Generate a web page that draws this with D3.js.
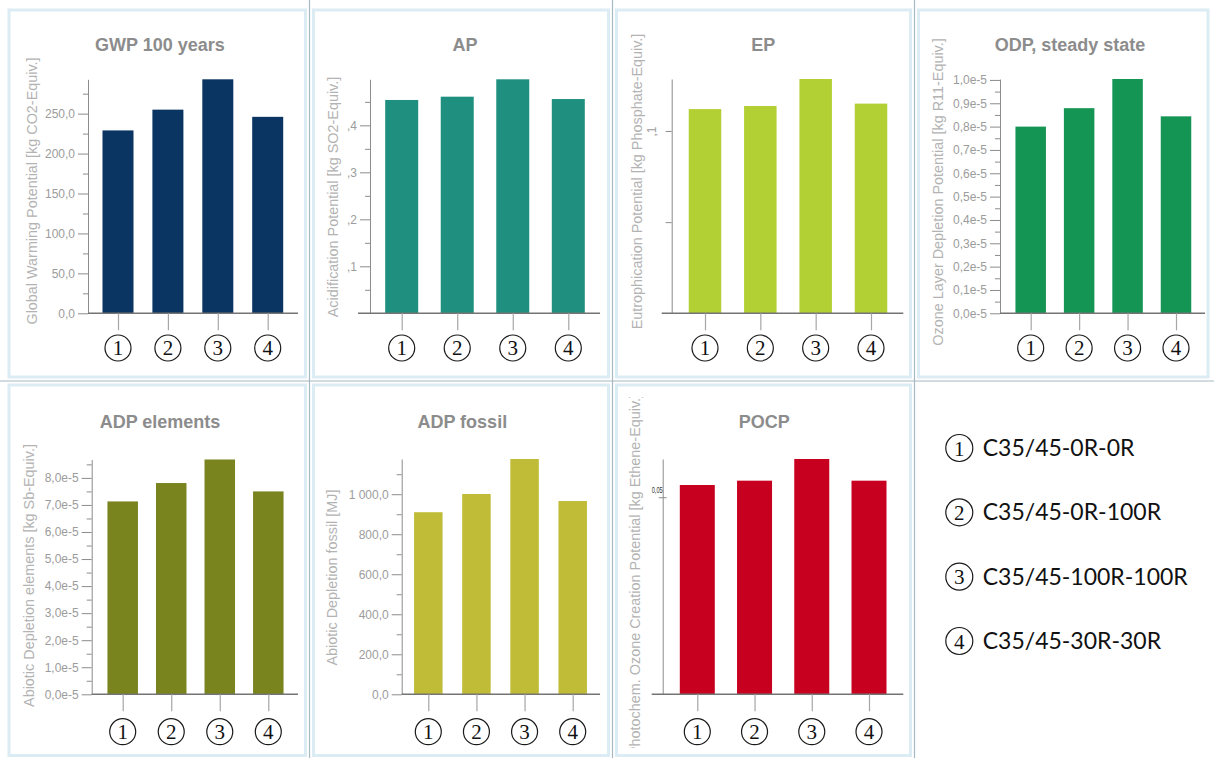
<!DOCTYPE html>
<html>
<head>
<meta charset="utf-8">
<script src="https://cdn.jsdelivr.net/npm/d3@7"></script>
<style>
  body { margin: 0; background: #ffffff; }
  svg { display: block; }
  .ytick text { font-family: "Liberation Sans", Arial, sans-serif; font-size: 12px; fill: #9c9c9c; }
  .ytick .domain, .ytick line, .yminor line { stroke: #8c8c8c; stroke-width: 1; }
  .yminor .domain { display: none; }
  .xcat .domain { display: none; }
  .xcat line { stroke: #a6a6a6; stroke-width: 1.2; }
</style>
</head>
<body>
<svg id="chart" width="1214" height="758"></svg>
<script>
// ---- categories and legend ----
const categories = ["1", "2", "3", "4"];
const legendLabels = ["C35/45-0R-0R", "C35/45-0R-100R", "C35/45-100R-100R", "C35/45-30R-30R"];

// ---- panel titles ----
const panelTitles = ["GWP 100 years", "AP", "EP", "ODP, steady state", "ADP elements", "ADP fossil", "POCP"];
const axisTitles = [
  "Global Warming Potential [kg CO2-Equiv.]",
  "Acidification Potential [kg SO2-Equiv.]",
  "Eutrophication Potential [kg Phosphate-Equiv.]",
  "Ozone Layer Depletion Potential [kg R11-Equiv.]",
  "Abiotic Depletion elements [kg Sb-Equiv.]",
  "Abiotic Depletion fossil [MJ]",
  "Photochem. Ozone Creation Potential [kg Ethene-Equiv.]"
];

// ---- series values (one per category) ----
const gwpValues = [229, 255, 293, 246];
const apValues = [0.454, 0.461, 0.498, 0.456];
const epValues = [0.1120, 0.1137, 0.1285, 0.1150];
const odpValues = [0.800e-5, 0.879e-5, 1.004e-5, 0.844e-5];
const adpElemValues = [7.13e-5, 7.81e-5, 8.68e-5, 7.50e-5];
const adpFossilValues = [910, 1001, 1176, 966];
const pocpValues = [0.0531, 0.0542, 0.0597, 0.0542];

// ---- tick values and labels ----
const gwpTicks = [0, 50, 100, 150, 200, 250];
const gwpTickLabels = ["0,0", "50,0", "100,0", "150,0", "200,0", "250,0"];
const gwpMinor = [25, 75, 125, 175, 225, 275];

const apTicks = [0.1, 0.2, 0.3, 0.4];
const apTickLabels = [",1", ",2", ",3", ",4"];
const apMinor = [0.05, 0.15, 0.25, 0.35, 0.45];

const epTicks = [0.05, 0.1];
const epTickLabels = ["", ",1"];
const epMinor = [];

const odpTicks = [0, 0.1e-5, 0.2e-5, 0.3e-5, 0.4e-5, 0.5e-5, 0.6e-5, 0.7e-5, 0.8e-5, 0.9e-5, 1.0e-5];
const odpTickLabels = ["0,0e-5", "0,1e-5", "0,2e-5", "0,3e-5", "0,4e-5", "0,5e-5", "0,6e-5", "0,7e-5", "0,8e-5", "0,9e-5", "1,0e-5"];
const odpMinor = [0.05e-5, 0.15e-5, 0.25e-5, 0.35e-5, 0.45e-5, 0.55e-5, 0.65e-5, 0.75e-5, 0.85e-5, 0.95e-5];

const adpElemTicks = [0, 1e-5, 2e-5, 3e-5, 4e-5, 5e-5, 6e-5, 7e-5, 8e-5];
const adpElemTickLabels = ["0,0e-5", "1,0e-5", "2,0e-5", "3,0e-5", "4,0e-5", "5,0e-5", "6,0e-5", "7,0e-5", "8,0e-5"];
const adpElemMinor = [0.5e-5, 1.5e-5, 2.5e-5, 3.5e-5, 4.5e-5, 5.5e-5, 6.5e-5, 7.5e-5, 8.5e-5];

const adpFossilTicks = [0, 200, 400, 600, 800, 1000];
const adpFossilTickLabels = ["0,0", "200,0", "400,0", "600,0", "800,0", "1 000,0"];
const adpFossilMinor = [100, 300, 500, 700, 900, 1100];

const pocpTicks = [0.05];
const pocpTickLabels = ["0,05"];

// ---- panel setup: data + placement ----
const panels = [
  { title: panelTitles[0], axisTitle: axisTitles[0], values: gwpValues, color: "#0a3461",
    ticks: gwpTicks, labels: gwpTickLabels, minor: gwpMinor,
    ax: 88, base: 313.3, top: 79.3, c0: 118, c1: 267.7, bw: 31, line: [88, 298],
    catY: 348, titleX: 160, titleY: 50.7, ytX: 37, ytY: 191 },
  { title: panelTitles[1], axisTitle: axisTitles[1], values: apValues, color: "#1f9080",
    ticks: apTicks, labels: apTickLabels, minor: apMinor,
    ax: 370, base: 313.3, top: 79.3, c0: 401.7, c1: 568.3, bw: 33, line: [358, 600],
    catY: 348, titleX: 465, titleY: 50.7, ytX: 338, ytY: 197 },
  { title: panelTitles[2], axisTitle: axisTitles[2], values: epValues, color: "#b2cf34",
    ticks: epTicks, labels: epTickLabels, minor: epMinor, rotateLabels: true, tickLen: 6,
    ax: 671.7, base: 313.3, top: 79, c0: 705, c1: 871, bw: 32.5, line: [661.7, 903.3],
    catY: 348, titleX: 763.3, titleY: 50.7, ytX: 642, ytY: 181.5 },
  { title: panelTitles[3], axisTitle: axisTitles[3], values: odpValues, color: "#159553",
    ticks: odpTicks, labels: odpTickLabels, minor: odpMinor,
    ax: 1000, base: 313.3, top: 79, c0: 1030.7, c1: 1176, bw: 30.5, line: [1000, 1205],
    catY: 348, titleX: 1070, titleY: 50.7, ytX: 943, ytY: 192 },
  { title: panelTitles[4], axisTitle: axisTitles[4], values: adpElemValues, color: "#79841f",
    ticks: adpElemTicks, labels: adpElemTickLabels, minor: adpElemMinor,
    ax: 91.7, base: 694.3, top: 459.5, c0: 122.7, c1: 268.3, bw: 30.5, line: [91.7, 298],
    catY: 731.7, titleX: 160, titleY: 428, ytX: 34, ytY: 575.5 },
  { title: panelTitles[5], axisTitle: axisTitles[5], values: adpFossilValues, color: "#c0bc38",
    ticks: adpFossilTicks, labels: adpFossilTickLabels, minor: adpFossilMinor,
    ax: 401.7, base: 694.3, top: 459, c0: 428.3, c1: 572.7, bw: 28.5, line: [401.7, 600],
    catY: 731.7, titleX: 462.3, titleY: 428, ytX: 337, ytY: 577.5 },
  { title: panelTitles[6], axisTitle: axisTitles[6], values: pocpValues, color: "#c8001f",
    ticks: pocpTicks, labels: pocpTickLabels, minor: [], pocpStyle: true,
    ax: 662.7, base: 694.3, top: 459, c0: 697.3, c1: 869, bw: 35, line: [651.7, 903.3],
    catY: 731.7, titleX: 764.3, titleY: 428, ytX: 640, ytY: 575, clip: [397, 748] }
];

const svg = d3.select("#chart");

// ---- cell frames and dividers ----
const colEdges = [0, 309.5, 612.5, 914.5, 1214];
const rowEdges = [0, 381, 758];
const frames = svg.append("g");
for (let r = 0; r < 2; r++) {
  for (let c = 0; c < 4; c++) {
    if (r === 1 && c === 3) continue;
    const x0 = colEdges[c], x1 = colEdges[c + 1], y0 = rowEdges[r], y1 = rowEdges[r + 1];
    const li = c === 0 ? 9 : 4, ri = c === 3 ? 6 : 4, ti = r === 0 ? 10 : 4, bi = r === 1 ? 2.5 : 4;
    frames.append("rect")
      .attr("x", x0 + li).attr("y", y0 + ti)
      .attr("width", x1 - x0 - li - ri).attr("height", y1 - y0 - ti - bi)
      .attr("fill", "#ffffff").attr("stroke", "#dcecf4").attr("stroke-width", 3);
  }
}
[309.5, 612.5, 914.5].forEach(x => {
  frames.append("line").attr("x1", x).attr("x2", x).attr("y1", 0).attr("y2", 758)
    .attr("stroke", "#a6b8c2").attr("stroke-width", 1.2);
});
frames.append("line").attr("x1", 0).attr("x2", 1214).attr("y1", 381).attr("y2", 381)
  .attr("stroke", "#a6b8c2").attr("stroke-width", 1.2);

// ---- draw each bar panel ----
panels.forEach((p, i) => {
  const g = svg.append("g").attr("class", "panel");

  const y = d3.scaleLinear().domain([0, d3.max(p.values)]).range([p.base, p.top]);
  const x = d3.scalePoint().domain(categories).range([p.c0, p.c1]);

  // title
  g.append("text")
    .attr("x", p.titleX).attr("y", p.titleY)
    .attr("text-anchor", "middle")
    .style("font-family", "'Liberation Sans', Arial, sans-serif")
    .style("font-size", "18px").style("font-weight", "bold")
    .style("fill", "#8c8c8c")
    .text(p.title);

  // vertical axis title (clipped for the long POCP label)
  let ytParent = g;
  if (p.clip) {
    const id = "clip" + i;
    svg.append("defs").append("clipPath").attr("id", id)
      .append("rect").attr("x", p.ytX - 20).attr("y", p.clip[0]).attr("width", 40).attr("height", p.clip[1] - p.clip[0]);
    ytParent = g.append("g").attr("clip-path", `url(#${id})`);
  }
  ytParent.append("text")
    .attr("transform", `translate(${p.ytX},${p.ytY}) rotate(-90)`)
    .attr("text-anchor", "middle")
    .style("font-family", "'Liberation Sans', Arial, sans-serif")
    .style("font-size", "14.4px")
    .style("fill", "#b3b3b3")
    .text(p.axisTitle);

  // bars
  g.append("g").selectAll("rect")
    .data(p.values)
    .join("rect")
    .attr("x", (d, j) => x(categories[j]) - p.bw / 2)
    .attr("y", d => y(d))
    .attr("width", p.bw)
    .attr("height", d => y(0) - y(d))
    .attr("fill", p.color);

  // minor ticks
  if (p.minor.length) {
    g.append("g").attr("class", "yminor")
      .attr("transform", `translate(${p.ax},0)`)
      .call(d3.axisLeft(y).tickValues(p.minor).tickSize(5).tickFormat(""));
  }

  // major ticks + axis line
  const yAxis = g.append("g").attr("class", "ytick")
    .attr("transform", `translate(${p.ax},0)`)
    .call(d3.axisLeft(y).tickValues(p.ticks)
      .tickFormat((d, j) => p.labels[j])
      .tickSize(p.tickLen || 10).tickSizeOuter(0).tickPadding(3));

  if (p.rotateLabels) {
    yAxis.selectAll(".tick text")
      .attr("x", null).attr("dy", null)
      .attr("text-anchor", "middle")
      .attr("transform", "translate(-16,0) rotate(-90)");
  }
  if (p.pocpStyle) {
    yAxis.select(".domain").attr("stroke", "#b0b0b0");
    yAxis.selectAll(".tick line").attr("x1", 4).attr("x2", -4).attr("stroke", "#3a78c8").attr("stroke-width", 1.2);
    yAxis.selectAll(".tick text")
      .attr("x", 0).attr("dy", "-0.6em")
      .attr("textLength", 11).attr("lengthAdjust", "spacingAndGlyphs")
      .style("font-size", "8.5px").style("fill", "#333333");
  }

  // category axis baseline
  g.append("line")
    .attr("x1", p.line[0]).attr("x2", p.line[1])
    .attr("y1", y(0)).attr("y2", y(0))
    .attr("stroke", "#747474").attr("stroke-width", 1.5);

  // category ticks
  g.append("g").attr("class", "xcat")
    .attr("transform", `translate(0,${y(0)})`)
    .call(d3.axisBottom(x).tickSize(17).tickSizeOuter(0).tickFormat(""));

  // circled category numbers
  const cat = g.append("g").selectAll("g")
    .data(categories)
    .join("g")
    .attr("transform", d => `translate(${x(d)},${p.catY})`);
  cat.append("circle").attr("r", 13).attr("fill", "none").attr("stroke", "#1a1a1a").attr("stroke-width", 1.2);
  cat.append("text")
    .attr("text-anchor", "middle").attr("y", 7)
    .style("font-family", "'Liberation Serif', 'Times New Roman', serif")
    .style("font-size", "21px").style("fill", "#111111")
    .text(d => d);
});

// ---- legend ----
const legendY = d3.scalePoint().domain(categories).range([448, 641]);
const leg = svg.append("g").selectAll("g")
  .data(categories)
  .join("g")
  .attr("transform", d => `translate(959.3,${legendY(d)})`);
leg.append("circle").attr("r", 13.5).attr("fill", "none").attr("stroke", "#1a1a1a").attr("stroke-width", 1.2);
leg.append("text")
  .attr("text-anchor", "middle").attr("y", 7.5)
  .style("font-family", "'Liberation Serif', 'Times New Roman', serif")
  .style("font-size", "21px").style("fill", "#111111")
  .text(d => d);
leg.append("text")
  .attr("x", 23.4).attr("y", 8)
  .style("font-family", "Lato, 'Open Sans', sans-serif")
  .style("font-size", "23px").style("fill", "#111111")
  .text((d, i) => legendLabels[i]);
</script>
</body>
</html>
